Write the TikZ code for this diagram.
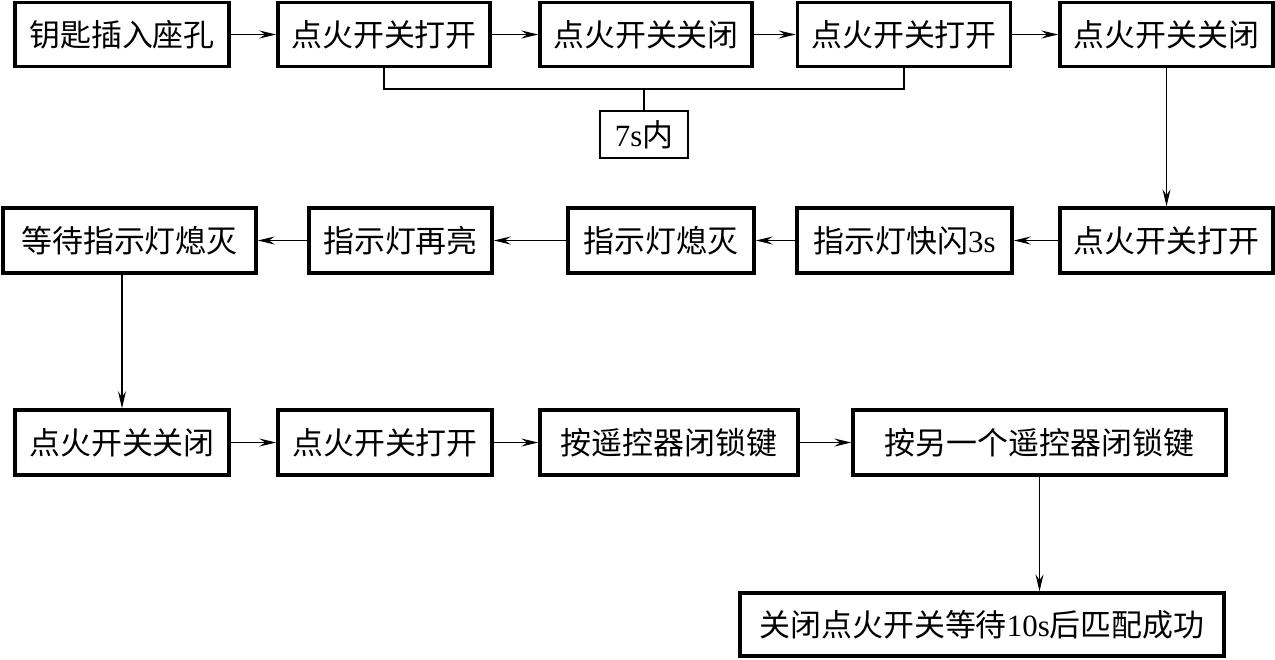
\documentclass[tikz,border=0pt]{standalone}
\usepackage{fontspec}
\setmainfont{Liberation Serif}
\newfontfamily\cjk{Noto Sans CJK SC}
\usetikzlibrary{arrows.meta,positioning}
\newcommand{\lat}[1]{{\rmfamily #1}}
\tikzset{>={Stealth[length=3.4mm,width=1.6mm,inset=1.2mm]},
  every node/.style={font=\cjk\fontsize{17.6pt}{20pt}\selectfont},
  stepbox/.style={draw,line width=2pt,inner sep=0pt,minimum height=1.28cm},
  flow/.style={->,line width=.7pt},
  link/.style={line width=.7pt}}

\begin{document}
\begin{tikzpicture}[x=1cm,y=1cm]
\useasboundingbox (0,0) rectangle (25.5,-13.18);
% first row
\node[stepbox,minimum width=4.28cm] (key) at (2.44,-.69) {钥匙插入座孔};
\node[stepbox,minimum width=4.24cm] (on1) at (7.68,-.69) {点火开关打开};
\node[stepbox,minimum width=4.24cm] (off1) at (12.92,-.69) {点火开关关闭};
\node[stepbox,minimum width=4.26cm] (on2) at (18.08,-.69) {点火开关打开};
\node[stepbox,minimum width=4.26cm] (off2) at (23.33,-.69) {点火开关关闭};
\node[stepbox,minimum width=1.76cm,minimum height=.94cm,line width=1.6pt] (within) at (12.88,-2.69) {\lat{7s}内};
\coordinate (brk) at (12.88,-1.78);
% second row
\node[stepbox,minimum width=4.26cm,minimum height=1.3cm] (on3) at (23.33,-4.81) {点火开关打开};
\node[stepbox,minimum width=4.30cm,minimum height=1.3cm] (flash) at (18.09,-4.81) {指示灯快闪\lat{3s}};
\node[stepbox,minimum width=3.72cm,minimum height=1.3cm] (dark) at (13.22,-4.81) {指示灯熄灭};
\node[stepbox,minimum width=3.66cm,minimum height=1.3cm] (relit) at (8.01,-4.81) {指示灯再亮};
\node[stepbox,minimum width=5.06cm,minimum height=1.3cm] (wait) at (2.59,-4.81) {等待指示灯熄灭};
% third row
\node[stepbox,minimum width=4.28cm,minimum height=1.3cm] (off3) at (2.44,-8.85) {点火开关关闭};
\node[stepbox,minimum width=4.28cm,minimum height=1.3cm] (on4) at (7.70,-8.85) {点火开关打开};
\node[stepbox,minimum width=5.16cm,minimum height=1.3cm] (lock1) at (13.38,-8.85) {按遥控器闭锁键};
\node[stepbox,minimum width=7.46cm,minimum height=1.3cm] (lock2) at (20.79,-8.85) {按另一个遥控器闭锁键};
\node[stepbox,minimum width=9.68cm,minimum height=1.26cm] (done) at (19.64,-12.49) {关闭点火开关等待\lat{10s}后匹配成功};

\draw[flow] (key) -- (on1);
\draw[flow] (on1) -- (off1);
\draw[flow] (off1) -- (on2);
\draw[flow] (on2) -- (off2);
\draw[link] (on1.south) |- (brk) -| (on2.south);
\draw[link] (brk) -- (within.north);
\draw[flow] (off2) -- (on3);
\draw[flow] (on3) -- (flash);
\draw[flow] (flash) -- (dark);
\draw[flow] (dark) -- (relit);
\draw[flow] (relit) -- (wait);
\draw[flow] (off3.north |- wait.south) -- (off3.north);
\draw[flow] (off3) -- (on4);
\draw[flow] (on4) -- (lock1);
\draw[flow] (lock1) -- (lock2);
\draw[flow] (lock2.south) -- (lock2.south |- done.north);
\end{tikzpicture}
\end{document}
